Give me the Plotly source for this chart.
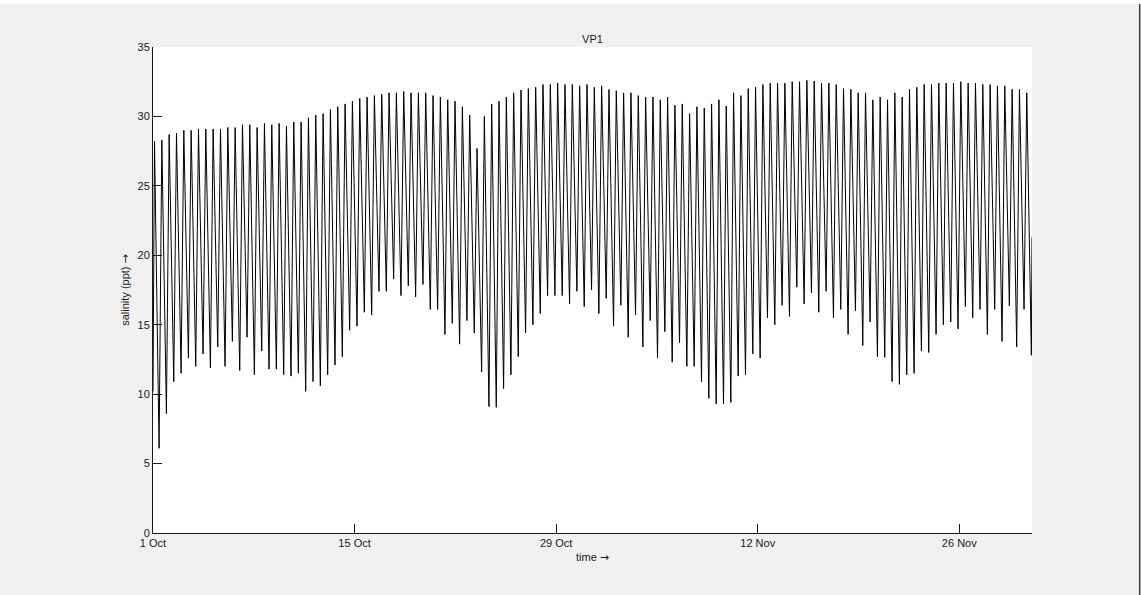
import pandas as pd
import plotly.graph_objects as go

# ---- data ----
start_time = "2010-10-01 00:00"
end_time = "2010-12-01 01:12"
tick_dates = ["2010-10-01", "2010-10-15", "2010-10-29", "2010-11-12", "2010-11-26"]
tick_labels = ["1 Oct", "15 Oct", "29 Oct", "12 Nov", "26 Nov"]
y_ticks = [0, 5, 10, 15, 20, 25, 30, 35]

first_value = 10.2
last_value = 21.3

# salinity at each high water (ppt)
peak_salinity = [
    28.2, 28.3, 28.7, 28.8, 29.0, 29.0, 29.1, 29.1, 29.1, 29.1, 29.2, 29.2, 29.4, 29.4, 29.2, 29.5, 29.4, 29.5,
    29.3, 29.6, 29.6, 29.9, 30.1, 30.2, 30.5, 30.7, 30.9, 31.1, 31.3, 31.4, 31.5, 31.6, 31.7, 31.7, 31.8,
    31.7, 31.7, 31.7, 31.5, 31.4, 31.2, 31.1, 30.7, 30.1, 27.7, 30.0, 30.9, 31.1, 31.4, 31.7, 31.9, 32.0,
    32.1, 32.3, 32.3, 32.4, 32.3, 32.3, 32.2, 32.3, 32.1, 32.2, 31.95, 31.85, 31.7, 31.7, 31.5, 31.4, 31.4,
    31.2, 31.4, 30.8, 30.9, 30.2, 30.7, 30.6, 30.9, 31.2, 30.75, 31.7, 31.5, 32.0, 32.1, 32.3, 32.4, 32.4,
    32.4, 32.5, 32.5, 32.6, 32.55, 32.4, 32.4, 32.3, 32.0, 31.95, 31.7, 31.7, 31.2, 31.4, 31.2, 31.7, 31.4,
    31.95, 32.1, 32.3, 32.3, 32.4, 32.4, 32.4, 32.5, 32.4, 32.4, 32.3, 32.3, 32.2, 32.2, 31.95, 31.95, 31.7,
]

# salinity at each low water (ppt), one after each high water
trough_salinity = [
    6.1, 8.6, 10.9, 11.5, 12.6, 12.0, 12.9, 11.9, 13.4, 12.0, 13.8, 11.7, 14.1, 11.4, 13.1, 11.8, 11.8,
    11.4, 11.3, 11.5, 10.2, 10.9, 10.6, 11.4, 12.1, 12.7, 14.6, 14.9, 15.9, 15.7, 17.4, 17.4, 18.3, 17.1, 17.8,
    17.0, 17.9, 16.1, 16.1, 14.3, 15.1, 13.6, 15.3, 14.4, 11.6, 9.1, 9.05, 10.4, 11.4, 12.7, 14.4,
    15.0, 15.8, 17.1, 17.1, 17.1, 16.5, 17.4, 16.3, 17.5, 15.8, 16.9, 14.9, 16.4, 14.1, 15.7, 13.4, 15.3,
    12.6, 14.5, 12.3, 13.7, 12.0, 12.0, 10.9, 9.7, 9.3, 9.3, 9.4, 11.3, 11.4, 12.9, 12.6, 15.5, 15.0,
    16.4, 15.6, 17.7, 16.5, 17.3, 15.9, 17.4, 15.5, 16.1, 14.3, 16.0, 13.5, 15.2, 12.7, 12.65, 10.9, 10.7,
    11.4, 11.5, 13.1, 13.0, 14.3, 15.0, 15.2, 14.7, 16.3, 15.5, 16.1, 14.3, 16.1, 13.8, 16.35, 13.4, 16.1, 12.8,
]

# sampling clock of the tidal extremes (days)
first_peak_day = 0.104
tide_period_days = 0.5091
fall_days = 0.319

# ---- build the series ----
t0 = pd.Timestamp(start_time)
times = [t0]
values = [first_value]
for k, (p, tr) in enumerate(zip(peak_salinity, trough_salinity)):
    dp = first_peak_day + k * tide_period_days
    times.append(t0 + pd.Timedelta(days=dp))
    values.append(p)
    times.append(t0 + pd.Timedelta(days=dp + fall_days))
    values.append(tr)
times.append(pd.Timestamp(end_time))
values.append(last_value)

font_family = "Liberation Sans, Arial, Helvetica, sans-serif"
ink = "#1a1a1a"
arrow = '<span style="font-family:DejaVu Sans">\u2192</span>'

fig = go.Figure()
fig.add_trace(go.Scatter(
    x=times, y=values, mode="lines",
    line=dict(color="#000000", width=1),
    hoverinfo="skip", showlegend=False,
))

plot_w = 1141 - 152.5 - 108.7
plot_h = 595 - 47 - 62

fig.update_layout(
    width=1141, height=595,
    paper_bgcolor="#f0f0f0", plot_bgcolor="#ffffff",
    margin=dict(l=152.5, r=108.7, t=47, b=62, pad=0),
    font=dict(family=font_family, size=11, color=ink),
    title=dict(text="VP1", x=0.5, xref="paper", xanchor="center",
               y=1, yref="paper", yanchor="bottom", pad=dict(b=4),
               font=dict(family=font_family, size=11, color=ink)),
    showlegend=False,
    shapes=[
        # window frame of the reference screenshot: white strip on top, dark edge on the right
        dict(type="rect", xref="paper", yref="paper", x0=-0.2, x1=1.2,
             y0=1 + 43.0 / plot_h, y1=1.2, fillcolor="#ffffff", line=dict(width=0), layer="above"),
        dict(type="line", xref="paper", yref="paper",
             x0=1 + 107.8 / plot_w, x1=1 + 107.8 / plot_w,
             y0=-62.0 / plot_h, y1=1 + 43.0 / plot_h,
             line=dict(color="#3c3c3c", width=1.5), layer="above"),
    ],
)

fig.update_xaxes(
    type="date", range=[start_time, end_time],
    tickvals=tick_dates, ticktext=tick_labels,
    ticks="inside", ticklen=9, tickwidth=1, tickcolor=ink,
    showline=True, linecolor=ink, linewidth=1, mirror=False,
    showgrid=False, zeroline=False,
    title=dict(text="time " + arrow, standoff=5, font=dict(size=11, color=ink)),
    tickfont=dict(size=11, color=ink),
)
fig.update_yaxes(
    range=[0, 35], tickvals=y_ticks,
    ticks="inside", ticklen=9, tickwidth=1, tickcolor=ink,
    showline=True, linecolor=ink, linewidth=1, mirror=False,
    showgrid=False, zeroline=False,
    title=dict(text="salinity (ppt) " + arrow, standoff=5, font=dict(size=11, color=ink)),
    tickfont=dict(size=11, color=ink),
)

fig.write_html(
    "out.html",
    config={"displayModeBar": False},
    post_script="document.body.style.margin='0';document.body.style.overflow='hidden';",
)
